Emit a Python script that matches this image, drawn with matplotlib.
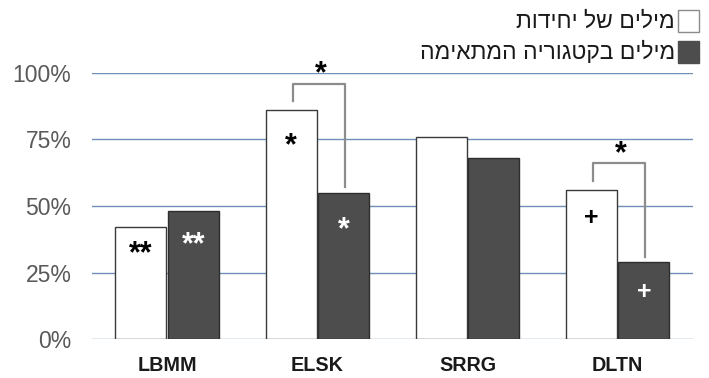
import numpy as np
import matplotlib.pyplot as plt
from matplotlib import font_manager
from matplotlib.patches import Rectangle

# שיעור זיהוי לפי קבוצה
groups = ['LBMM', 'ELSK', 'SRRG', 'DLTN']
units = [0.42, 0.86, 0.76, 0.56]      # מילים של יחידות
category = [0.48, 0.55, 0.68, 0.29]   # מילים בקטגוריה המתאימה
series_names = ['מילים של יחידות', 'מילים בקטגוריה המתאימה']
yticks = [0, 0.25, 0.5, 0.75, 1.0]
ytick_labels = ['0%', '25%', '50%', '75%', '100%']

# סימני מובהקות בתוך העמודות
units_marks = ['**', '*', '', '+']
category_marks = ['**', '*', '', '+']
# סוגריים בין זוגות מובהקים
bracket_groups = [1, 3]

def rtl(s):
    # matplotlib לא הופך כיוון לעברית
    return s[::-1]

plt.rcParams['font.family'] = ['Liberation Sans', 'DejaVu Sans']

installed = {f.name for f in font_manager.fontManager.ttflist}
if 'Liberation Sans Narrow' in installed:
    xfont, xsize = 'Liberation Sans Narrow', 16.5
else:
    xfont, xsize = 'Liberation Sans', 14.2

fig = plt.figure(figsize=(7.09, 3.78), dpi=100)
ax = fig.add_axes([0.13, 0.103, 0.847, 0.704])

x = np.arange(len(groups))
w = 0.34
off = 0.175
dark = '#4d4d4d'
px = 1 / 266  # פיקסל אחד ביחידות הציר

ax.bar(x - off, units, w, color='white', edgecolor='#3a3a3a', linewidth=1.0, zorder=3)
ax.bar(x + off, category, w, color=dark, edgecolor='#2e2e2e', linewidth=1.0, zorder=3)

ax.set_xlim(-0.5, 3.5)
ax.set_ylim(0, 1.0)
ax.set_yticks(yticks)
ax.set_yticklabels(ytick_labels, fontsize=16.5, color='#595959')
ax.set_xticks(x)
ax.set_xticklabels(groups, fontsize=xsize, fontweight='bold', color='#1a1a1a',
                   family=[xfont, 'DejaVu Sans'])
ax.tick_params(axis='y', length=0, pad=15)
ax.tick_params(axis='x', length=0, pad=12)
for s in ax.spines.values():
    s.set_visible(False)
ax.yaxis.grid(True, color='#6f8fb8', linewidth=1.0, zorder=0)
ax.set_axisbelow(True)

def mark(xc, top, m, color, depth):
    # מרכז הסימן depth פיקסלים מתחת לראש העמודה; קו הבסיס מחושב לפי צורת התו
    fs = 22 if '*' in m else 18
    rise = (0.58 if '*' in m else 0.36) * fs / 0.72
    ax.text(xc, top - (depth + rise) * px, m, ha='center', va='baseline',
            fontsize=fs, fontweight='bold', color=color, zorder=4)

for i in range(len(groups)):
    if units_marks[i]:
        depth = 17 if units_marks[i] == '**' else 26
        mark(x[i] - off, units[i], units_marks[i], 'black', depth)
    if category_marks[i]:
        depth = 24 if category_marks[i] == '**' else 28
        mark(x[i] + off, category[i], category_marks[i], 'white', depth)

# סוגריים עם כוכבית
for i in bracket_groups:
    xl = x[i] - off + 0.01
    xr = x[i] + off + 0.01
    top = units[i] + 0.10
    ax.plot([xl, xl, xr, xr], [units[i] + 0.035, top, top, category[i] + 0.02],
            color='#8c8c8c', linewidth=1.6, clip_on=False, zorder=4)
    ax.text(x[i] + 0.02, top + 19 * px - 0.58 * 22 / 0.72 * px, '*', ha='center',
            va='baseline', fontsize=22, fontweight='bold', color='black', clip_on=False)

# מקרא
fig.patches.append(Rectangle((678 / 709, 1 - 32 / 378), 21 / 709, 22 / 378,
                             transform=fig.transFigure, facecolor='white',
                             edgecolor='#8c8c8c', linewidth=1.0))
fig.patches.append(Rectangle((678 / 709, 1 - 63 / 378), 21 / 709, 22 / 378,
                             transform=fig.transFigure, facecolor=dark,
                             edgecolor=dark, linewidth=1.0))
fig.text(675 / 709, 1 - 21 / 378, rtl(series_names[0]), ha='right', va='center',
         fontsize=16.5, color='#1a1a1a')
fig.text(675 / 709, 1 - 52 / 378, rtl(series_names[1]), ha='right', va='center',
         fontsize=16.5, color='#1a1a1a')

fig.savefig('out.png', dpi=100)
